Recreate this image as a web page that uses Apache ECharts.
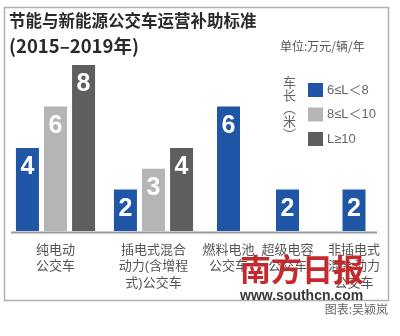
<!DOCTYPE html>
<html><head><meta charset="utf-8">
<script src="https://cdn.jsdelivr.net/npm/echarts@6/dist/echarts.min.js"></script>
<style>html,body{margin:0;padding:0;background:#fff}#c{width:400px;height:336px}</style>
</head><body><div id="c"></div>
<script>
const categories = ['纯电动\n公交车', '插电式混合\n动力(含增程\n式)公交车', '燃料电池\n公交车', '超级电容\n公交车', '非插电式\n混合动力\n公交车'];
const seriesNames = ['6≤L＜8', '8≤L＜10', 'L≥10'];
const lenShort = [4, 2, 6, 2, 2];
const lenMedium = [6, 3, null, null, null];
const lenLong = [8, 4, null, null, null];

const values = [lenShort, lenMedium, lenLong];
const colors = ['#1f56a5', '#b5b5b5', '#5e5e5e'];
const centers = [55.5, 153.5, 228.5, 287.5, 354];
const FONT = '"Liberation Sans", "Noto Sans CJK SC", sans-serif';

const grids = [], xAxes = [], yAxes = [], series = [];
categories.forEach((cat, i) => {
  grids.push({left: centers[i] - 40, width: 80, top: 65, bottom: 105});
  xAxes.push({type: 'category', gridIndex: i, data: [cat],
    axisLine: {show: false}, axisTick: {show: false},
    axisLabel: {interval: 0, margin: 11, color: '#555', fontSize: 13, lineHeight: 16.5, fontFamily: FONT}});
  yAxes.push({type: 'value', gridIndex: i, min: 0, max: 8, show: false});
  values.forEach((arr, s) => {
    if (arr[i] == null) return;
    series.push({
      type: 'bar', name: seriesNames[s], xAxisIndex: i, yAxisIndex: i,
      data: [arr[i]], barWidth: 23, barGap: '22%',
      itemStyle: {color: colors[s]},
      label: {show: true, position: 'insideTop', distance: 7, color: '#fff',
        fontSize: 25, fontWeight: 'bold', fontFamily: '"Liberation Sans", Arial, sans-serif'}
    });
  });
});

const chart = echarts.init(document.getElementById('c'), null, {renderer: 'canvas'});
chart.setOption({
  animation: false,
  color: colors,
  grid: grids, xAxis: xAxes, yAxis: yAxes, series: series,
  legend: {
    data: seriesNames, orient: 'vertical', left: 303, top: 78,
    itemWidth: 15, itemHeight: 14, itemGap: 10.5, icon: 'rect',
    textStyle: {color: '#666', fontSize: 13, fontFamily: FONT, padding: [0, 0, 0, -1]},
    selectedMode: false
  },
  graphic: [
    {type: 'rect', shape: {x: 4.5, y: 7.5, width: 384, height: 293}, style: {fill: 'none', stroke: '#b0b0b0', lineWidth: 1.5}, z: 0},
    {type: 'line', shape: {x1: 11, y1: 232.5, x2: 377, y2: 232.5}, style: {stroke: '#999', lineWidth: 2}, z: 10},
    {type: 'text', left: 9, top: 12, style: {text: '节能与新能源公交车运营补助标准', fill: '#2a2a2a', font: 'bold 16.5px "Noto Sans CJK SC"'}},
    {type: 'text', left: 9, top: 37, style: {text: '(2015–2019年)', fill: '#2a2a2a', font: 'bold 18.5px "Noto Sans CJK SC"'}},
    {type: 'text', left: 280, top: 40, style: {text: '单位:万元/辆/年', fill: '#555', font: '12px "Noto Sans CJK SC"'}},
    {type: 'text', left: 283, top: 76, style: {text: '车\n长\n︵\n米\n︶', fill: '#666', font: '13px "Noto Sans CJK SC"', lineHeight: 13}},
    {type: 'text', right: 12, top: 303, style: {text: '图表:吴颖岚', fill: '#666', font: '12px "Noto Sans CJK SC"'}},
    {type: 'text', left: 240, top: 254, style: {text: '南方日报', fill: '#c42a2d', font: 'bold 31px "Noto Sans CJK SC"'}, z: 20},
    {type: 'text', left: 240, top: 289, style: {text: 'www.southcn.com', fill: '#3a3a3a', font: 'bold 14px "Liberation Sans"'}, z: 20}
  ]
});
</script></body></html>
